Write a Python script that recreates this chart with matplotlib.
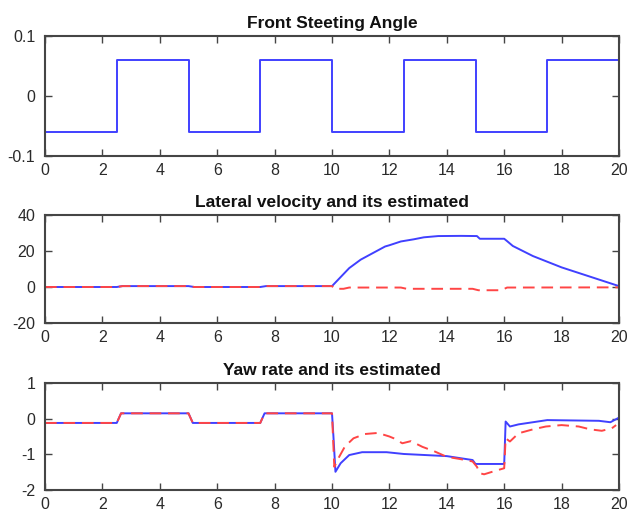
import matplotlib
matplotlib.use("Agg")
import matplotlib.pyplot as plt
import numpy as np

plt.rcParams['font.family'] = ['Liberation Sans', 'DejaVu Sans']

# ---- Data ----
# Front steering angle (square wave)
steer_t = [0, 2.5, 2.5, 5, 5, 7.5, 7.5, 10, 10, 12.5, 12.5, 15, 15, 17.5, 17.5, 20, 20]
steer_v = [-0.06, -0.06, 0.06, 0.06, -0.06, -0.06, 0.06, 0.06, -0.06, -0.06, 0.06, 0.06,
           -0.06, -0.06, 0.06, 0.06, -0.06]

# Lateral velocity (actual, blue)
vy_t = [0, 2.5, 2.7, 5, 5.2, 7.5, 7.7, 10, 10.3, 10.6, 11.0, 11.5, 11.85, 12.0, 12.4,
        12.85, 13.2, 13.7, 14.5, 15.05, 15.15, 16.0, 16.1, 16.3, 17.0, 18.0, 19.0, 20.0]
vy_v = [0, 0, 0.5, 0.5, 0, 0, 0.5, 0.5, 5.5, 10.5, 15.2, 19.5, 22.5, 23.2, 25.3,
        26.5, 27.6, 28.3, 28.4, 28.3, 26.8, 26.8, 25.5, 22.8, 17.2, 10.9, 5.7, 0.5]
# Lateral velocity (estimated, red dashed)
vy_est_t = [0, 2.5, 2.7, 5, 5.2, 7.5, 7.7, 10, 10.1, 10.4, 10.6, 12.4, 12.6, 14.9, 15.1,
            15.9, 16.1, 20]
vy_est_v = [0, 0, 0.5, 0.5, 0, 0, 0.5, 0.5, -1.0, -1.0, -0.3, -0.3, -1.0, -1.0, -1.8,
            -1.8, -0.3, -0.2]

# Yaw rate (actual, blue)
r_t = [0, 2.5, 2.65, 5, 5.15, 7.5, 7.65, 10, 10.05, 10.12, 10.3, 10.6, 11.05, 11.9, 12.5,
       14.0, 14.9, 15.0, 16.0, 16.05, 16.2, 16.5, 17.0, 17.5, 19.3, 19.7, 20.0]
r_v = [-0.12, -0.12, 0.15, 0.15, -0.12, -0.12, 0.15, 0.15, -0.5, -1.49, -1.25, -1.02,
       -0.94, -0.94, -0.99, -1.05, -1.16, -1.27, -1.27, -0.08, -0.22, -0.16, -0.1, -0.04,
       -0.06, -0.1, 0.03]
# Yaw rate (estimated, red dashed)
r_est_t = [0, 2.5, 2.65, 5, 5.15, 7.5, 7.65, 10, 10.08, 10.25, 10.45, 10.75, 11.15, 11.6,
           12.0, 12.15, 12.45, 12.75, 13.15, 13.55, 14.0, 14.45, 14.9, 15.05, 15.15, 15.3,
           15.7, 16.0, 16.05, 16.2, 16.5, 17.0, 17.45, 18.0, 18.6, 19.0, 19.4, 19.75, 19.9]
r_est_v = [-0.12, -0.12, 0.15, 0.15, -0.12, -0.12, 0.15, 0.15, -1.35, -1.07, -0.78, -0.55,
           -0.43, -0.4, -0.5, -0.55, -0.69, -0.63, -0.79, -0.91, -1.07, -1.13, -1.2, -1.35,
           -1.53, -1.56, -1.46, -1.39, -0.55, -0.64, -0.41, -0.3, -0.22, -0.18, -0.22, -0.3,
           -0.34, -0.27, -0.18]

titles = ["Front Steeting Angle", "Lateral velocity and its estimated", "Yaw rate and its estimated"]
ylims = [(-0.1, 0.1), (-20, 40), (-2, 1)]
yticks = [[-0.1, 0, 0.1], [-20, 0, 20, 40], [-2, -1, 0, 1]]
ytick_labels = [["-0.1", "0", "0.1"], ["-20", "0", "20", "40"], ["-2", "-1", "0", "1"]]
xticks = list(range(0, 21, 2))

BLUE = "#4040ff"
RED = "#ff4545"
FRAME = "#454545"

W, H = 631, 515
fig = plt.figure(figsize=(W / 100, H / 100), dpi=100)
left, right = 45 / W, 619 / W
boxes = [(36, 156), (215, 323), (383, 490)]
axes = []
for (top, bot) in boxes:
    ax = fig.add_axes([left, 1 - bot / H, right - left, (bot - top) / H])
    axes.append(ax)

axes[0].plot(steer_t, steer_v, color=BLUE, lw=1.4)
axes[1].plot(vy_t, vy_v, color=BLUE, lw=1.4)
axes[1].plot(vy_est_t, vy_est_v, color=RED, lw=1.4, linestyle=(0, (6, 3.5)))
axes[2].plot(r_t, r_v, color=BLUE, lw=1.4)
axes[2].plot(r_est_t, r_est_v, color=RED, lw=1.4, linestyle=(0, (6, 3.5)))

for i, ax in enumerate(axes):
    ax.set_xlim(0, 20)
    ax.set_ylim(*ylims[i])
    ax.set_xticks(xticks)
    ax.set_xticklabels([str(x) for x in xticks])
    ax.set_yticks(yticks[i])
    ax.set_yticklabels(ytick_labels[i])
    ax.tick_params(axis='both', direction='in', length=5, width=1.0, color=FRAME,
                   top=True, right=True, labelsize=11.5, labelcolor="#2a2a2a")
    ax.tick_params(axis='y', pad=7)
    ax.tick_params(axis='x', pad=5)
    for s in ax.spines.values():
        s.set_color(FRAME)
        s.set_linewidth(1.5)
    ax.set_title(titles[i], fontsize=12.5, fontweight='bold', pad=6, color="#111111")

fig.savefig("out.png", dpi=100)
